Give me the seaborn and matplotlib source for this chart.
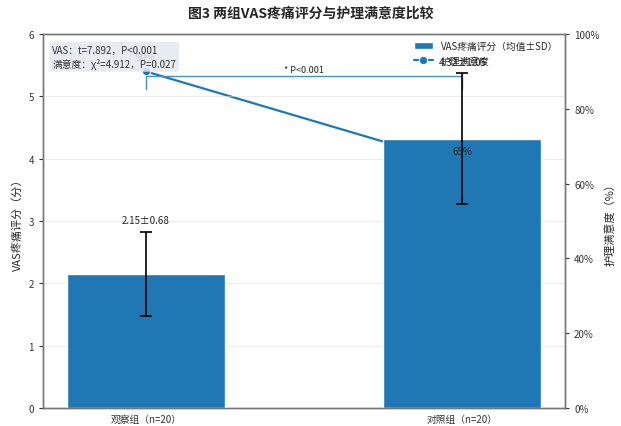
import matplotlib
matplotlib.use("Agg")
import matplotlib.pyplot as plt
import seaborn as sns
import numpy as np
import pandas as pd
from matplotlib.ticker import PercentFormatter

groups = ["观察组（n=20）", "对照组（n=20）"]
vas_mean = [2.15, 4.32]
vas_sd = [0.68, 1.05]
satisfaction = [90, 65]
stats_text = "VAS：t=7.892，P<0.001\n满意度：χ²=4.912，P=0.027"
sig_text = "* P<0.001"

sns.set_style("white")
plt.rcParams['font.family'] = ['Noto Sans CJK SC', 'DejaVu Sans']
plt.rcParams['axes.unicode_minus'] = False

df = pd.DataFrame({"group": groups, "vas": vas_mean, "sd": vas_sd, "sat": satisfaction})

fig = plt.figure(figsize=(6.21, 4.27), dpi=100)
ax1 = fig.add_axes([0.069, 0.042, 0.841, 0.876])
ax2 = ax1.twinx()

blue = "#1f77b4"
sns.barplot(data=df, x="group", y="vas", ax=ax1, color=blue, width=0.5,
            saturation=1, errorbar=None, label="VAS疼痛评分（均值±SD）")
xs = np.arange(len(groups))
ax1.errorbar(xs, vas_mean, yerr=vas_sd, fmt="none", ecolor="black",
             elinewidth=1.2, capsize=4, capthick=1.2, zorder=3)
for x, m, s in zip(xs, vas_mean, vas_sd):
    ax1.text(x, m + s + 0.1, f"{m:.2f}±{s:.2f}", ha="center", va="bottom",
             fontsize=7, color="#222222", zorder=4)

sns.lineplot(x=xs, y=satisfaction, ax=ax2, color=blue, marker="o",
             linewidth=1.6, markersize=6, label="护理满意度", legend=False)
for x, p in zip(xs, satisfaction):
    ax1.text(x, p + 2.5, f"{p}%", ha="center", va="bottom", fontsize=7,
             color="#222222", transform=ax2.transData, zorder=4)

ax1.set_ylim(0, 6)
ax2.set_ylim(0, 100)
ax2.yaxis.set_major_formatter(PercentFormatter(decimals=0))
ax2.set_yticks([0, 20, 40, 60, 80, 100])

# significance bracket
yb, yt = 5.12, 5.33
ax1.plot([0, 0, 1, 1], [yb, yt, yt, yb], color="#4a8fc4", lw=1.0, zorder=2)
ax1.text(0.5, yt + 0.03, sig_text, ha="center", va="bottom", fontsize=6.5,
         color="#222222")

ax1.text(0.018, 0.972, stats_text, transform=ax1.transAxes, ha="left", va="top",
         fontsize=7, color="#333333", linespacing=1.35, zorder=5,
         bbox=dict(boxstyle="round,pad=0.3", facecolor="#e3e9f0",
                   edgecolor="none", alpha=0.85))

ax1.set_zorder(ax2.get_zorder() + 1)
ax1.patch.set_visible(False)

ax1.set_xlabel("")
ax1.set_ylabel("VAS疼痛评分（分）", fontsize=8)
ax2.set_ylabel("护理满意度（%）", fontsize=8)
ax1.yaxis.grid(True, color="#dddddd", linewidth=0.6, alpha=0.6)
ax1.set_axisbelow(True)

for ax in (ax1, ax2):
    ax.tick_params(labelsize=7, colors="#333333", length=3, width=0.8)
    for sp in ax.spines.values():
        sp.set_color("#777777")
        sp.set_linewidth(1.0)
ax1.tick_params(axis="x", labelsize=7, pad=1.5)

h1, l1 = ax1.get_legend_handles_labels()
h2, l2 = ax2.get_legend_handles_labels()
ax1.legend(h1 + h2, l1 + l2, loc="upper right", fontsize=7, frameon=False,
           borderaxespad=0.3)

fig.suptitle("图3 两组VAS疼痛评分与护理满意度比较", fontsize=10, fontweight="bold",
             y=0.985)
fig.savefig("out.png", dpi=100)
